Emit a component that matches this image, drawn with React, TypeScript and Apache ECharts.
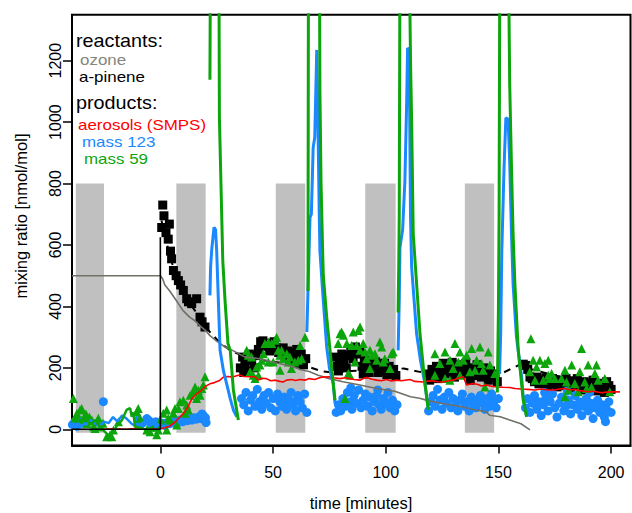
import React, { useEffect, useRef } from "react";
import * as echarts from "echarts";

const FONT = "'Liberation Sans', Arial, Helvetica, sans-serif";

// axes
const xTicks = [0, 50, 100, 150, 200];
const yTicks = [0, 200, 400, 600, 800, 1000, 1200];
const xRange = [-39.2, 208.6];
const yRange = [-52.7, 1349.6];

// shaded periods [start, end] in minutes, from -11 to 800 nmol/mol
const shadePeriods = [
  [-37.5, -25],
  [7.1, 20.1],
  [51.2, 64.3],
  [90.9, 104.4],
  [135.1, 148.1],
];
const shadeLow = -11;
const shadeHigh = 800;

// reactants
const ozone = [
  [-39.2, 500], [0, 500], [1, 490], [2, 470], [4, 452], [7, 420], [10, 387], [13, 365], [15, 355],
  [18, 334], [20, 322], [22, 305], [25, 287], [28.7, 268], [32, 257], [37.6, 235], [42, 232], [47, 225],
  [52, 215], [58, 205], [62, 195], [66, 188], [70, 176], [75, 165], [81, 155], [88, 145], [96, 133],
  [104, 124], [111, 106], [115, 101], [118, 95], [125, 84], [133, 74], [140, 63], [144.7, 57], [146, 46],
  [150.8, 41], [155, 30], [160, 18], [164, -2],
];

const apineneBaseline = [[-39.2, 0], [0, 0], [0, 625]];

const apineneFit = [
  [0.5, 680], [3, 600], [6, 520], [10, 450], [14, 400], [18, 360], [21, 325], [26, 285], [31, 257],
  [38, 235], [45, 225], [55, 215], [66, 203], [71, 190], [76, 185], [85, 190], [95, 192], [108, 198],
  [115, 187], [125, 180], [140, 176], [149, 173], [159, 209], [165, 195], [175, 175], [185, 160],
  [195, 150], [200, 145],
];

const apineneMeasured = [
  [1.06, 730], [1.6, 695], [0.6, 657], [4, 668], [3.5, 619], [2.5, 640], [5, 555], [5.8, 517], [4.5, 580],
  [8, 484], [7, 500], [9, 470], [10.2, 452], [11.7, 425], [12.5, 415], [13.9, 409], [16.1, 425],
  [17.6, 365], [18.5, 350], [19.8, 333],
  [35.5, 200], [36.5, 235], [37, 185], [37.5, 215], [38.5, 190], [39.5, 245], [40.5, 225], [41, 240],
  [41.5, 200], [42.5, 240], [43.5, 260], [44.5, 285], [45.5, 288], [46.5, 270], [47.5, 280], [48.5, 255],
  [49.5, 275], [50.5, 285], [51.5, 265], [52.5, 250], [53.5, 260], [54.5, 265], [55.5, 240], [56.5, 255],
  [57.5, 225], [58.5, 250], [59.5, 235], [60.5, 260], [61.5, 215], [62.5, 245], [63.5, 210], [64.5, 230],
  [77.5, 235], [78.5, 205], [79, 190], [79.5, 225], [80.5, 245], [81.5, 215], [82.5, 200], [83.5, 240],
  [84.5, 262], [85.5, 230], [86.5, 268], [87.5, 245], [88.5, 260], [89.5, 205], [90, 180], [90.5, 225],
  [91.5, 215], [92.5, 185], [93.5, 215], [94.5, 200], [95.5, 220], [96, 200], [96.5, 185], [97.5, 210],
  [98.5, 190], [99.5, 215], [100.5, 178], [101.5, 205], [102.5, 180], [103.5, 195], [104.5, 175],
  [118.5, 180], [119.5, 160], [120.5, 195], [121.5, 175], [122.5, 205], [123.5, 165], [124.5, 190],
  [125.5, 215], [126.5, 180], [127.5, 200], [128.5, 185], [129.5, 218], [130.5, 170], [131.5, 195],
  [132.5, 210], [133.5, 180], [134.5, 200], [135.5, 215], [136.5, 185], [137.5, 160], [138.5, 200],
  [139.5, 175], [140.5, 210], [141.5, 190], [142.5, 170], [143.5, 200], [144.5, 180], [145.5, 160],
  [146.5, 190], [147.5, 170], [148.5, 180], [149.5, 155],
  [161, 212], [162, 208], [163, 195], [164, 170], [165, 165], [166, 155], [167, 170], [168, 148], [169, 160],
  [170, 150], [171, 168], [172, 142], [173, 155], [174, 165], [175, 148], [176, 138], [177, 160], [178, 150],
  [179, 142], [180, 165], [181, 148], [182, 135], [183, 158], [184, 142], [185, 165], [186, 148], [187, 128],
  [188, 155], [189, 138], [190, 150], [191, 128], [192, 160], [193, 142], [194, 125], [195, 150], [196, 138],
  [197, 120], [198, 155], [199, 142], [200, 130],
];

// products
const aerosols = [
  [-26, 0], [-20, 2], [-15, 0], [-10, 3], [-5, 0], [0, 2], [2, 5], [4, 10], [6, 20], [8, 35], [10, 50],
  [12, 70], [14, 100], [16, 115], [18, 125], [20, 140], [22, 148], [24, 152], [26, 158], [28, 170],
  [30, 172], [32, 170], [35, 177], [37, 172], [40, 171], [42, 171], [43.5, 160], [45, 166], [47, 165],
  [49, 158], [51, 160], [53, 156], [54.5, 154], [56, 160], [58.3, 162], [60, 159], [62, 162], [64.2, 160],
  [66, 165], [68.6, 162], [70, 166], [72, 170], [75.3, 171], [77, 168], [79.7, 165], [82, 168],
  [84.1, 165], [86, 162], [88.6, 160], [90, 165], [91.5, 169], [94, 163], [96, 160], [98, 158],
  [100.4, 162], [102.5, 157], [104.8, 160], [107, 158], [110.7, 162], [113, 156], [116.6, 154], [119, 157],
  [121, 158], [123, 155], [125.5, 154], [128, 158], [129.9, 160], [132, 166], [134.4, 171], [135.9, 144],
  [138.8, 149], [141, 146], [142.5, 141], [144.7, 144], [147, 140], [149.2, 138], [152, 137], [155.1, 136],
  [157.3, 133], [160, 131], [163, 130], [166.2, 128], [169, 131], [172, 128], [175, 128], [177, 131],
  [179.5, 133], [181.5, 129], [183.9, 130], [186, 126], [189.8, 122], [192, 124], [195.7, 119],
  [198, 121], [200.2, 122], [203.9, 122],
];

const mass123Points = [
  [-39, 15], [-38, 25], [-37, 10], [-36, 30], [-35, 20], [-25.3, 90], [-10, 30], [-9, 12], [-8, 20],
  [-6, 35], [-5, 28], [-4, 15], [-2, 25], [-1, 10],
  [0, 15], [1, 20], [2, 12], [3, 22], [4, 18], [5, 25], [6, 20], [7, 28], [8, 22], [9, 30], [10, 25],
  [11, 32], [12, 28], [13, 35], [14, 30], [15, 38], [16, 33], [17, 40], [18, 35], [18.5, 50], [19, 45],
  [19.5, 30], [20, 38], [20.3, 22],
  [36, 100], [37, 80], [38, 120], [39, 60], [40, 95], [41, 110], [42, 75], [43, 130], [44, 90], [45, 65],
  [45.5, 100], [46, 110], [47, 85], [48, 120], [49, 70], [50, 100], [51, 60], [52, 115], [53, 90], [54, 75],
  [55, 105], [55.5, 88], [56, 65], [57, 95], [58, 120], [59, 80], [60, 60], [60.5, 95], [61, 110], [62, 90],
  [63, 70], [64, 115], [65, 55],
  [78, 55], [79, 80], [80, 60], [81, 100], [82, 75], [83, 120], [84, 90], [84.5, 135], [85, 65], [86, 110],
  [87, 85], [88, 128], [89, 70], [90, 95], [91, 115], [92, 75], [93, 105], [94, 60], [95, 90], [96, 110],
  [96.5, 128], [97, 80], [98, 65], [99, 100], [100, 85], [101, 120], [102, 70], [103, 95], [104, 60], [105, 80],
  [119, 60], [120, 90], [121, 110], [122, 75], [123, 130], [124, 95], [125, 65], [126, 105], [127, 85],
  [128, 120], [129, 70], [130, 100], [131, 80], [132, 60], [133, 95], [134, 115], [135, 75], [136, 90],
  [137, 60], [138, 105], [139, 80], [140, 70], [141, 95], [142, 110], [143, 85], [144, 65], [145, 100],
  [146, 75], [147, 115], [148, 90], [149, 70], [150, 100],
  [162, 70], [163, 100], [164, 55], [165, 85], [166, 110], [167, 65], [168, 90], [169, 45], [170, 80],
  [170.5, 120], [171, 100], [172, 60], [173, 90], [174, 115], [175, 70], [176, 40], [177, 85], [178, 105],
  [179, 60], [180, 75], [180.5, 125], [181, 95], [182, 50], [183, 80], [184, 110], [185, 65], [186, 90],
  [187, 45], [188, 75], [189, 100], [190, 60], [190.5, 120], [191, 85], [192, 35], [193, 70], [194, 95],
  [195, 55], [196, 80], [197, 40], [197.5, 25], [198, 65], [199, 90], [200, 55],
];

const mass123LinePre = [
  [-39.2, 20], [-37, 10], [-35, 25], [-33, 15], [-31, 30], [-29, 20], [-27, 10], [-25, 25], [-23, 20],
  [-21, 40], [-19, 25], [-17, 45], [-15, 35], [-13, 20], [-11, 10], [-9, 15], [-7, 25], [-5, 10],
  [-3, 20], [-1, 15], [0, 10],
];
const mass123LinePeak1 = [
  [22, 436], [22.3, 530], [22.8, 585], [23.8, 657], [24.5, 650], [25, 580], [25.5, 470], [26.5, 257],
  [28, 190], [29.4, 149], [31, 100], [32.4, 63], [33.9, 41],
];
const mass123LinePeak2 = [
  [65, 317], [65.5, 450], [66.4, 690], [67, 700], [67.8, 917], [68.5, 950], [69.4, 1235], [70, 960],
  [70.5, 700], [70.8, 581], [72, 450], [73.8, 268], [75, 200], [76.7, 149], [77.5, 84],
];
const mass123LinePeak3 = [
  [105.5, 257], [106, 420], [106.3, 592], [107.5, 650], [108.5, 808], [109.3, 1068], [109.7, 1241],
  [110.4, 1236], [110.7, 960], [111, 690], [111.5, 527], [113.7, 311], [115.5, 220], [117.4, 149], [118.9, 63],
];
const mass123LinePeak4 = [
  [150.5, 180], [151, 311], [151.5, 581], [152.5, 852], [153.3, 1014], [154.3, 1009], [155, 873],
  [155.8, 636], [156.5, 473], [158, 300], [160.3, 171], [161, 106], [162.5, 41],
];

const mass59Points = [
  [-38.6, 100], [-37.8, 36], [-37, 52], [-35.6, 63], [-34.9, 68], [-34.1, 36], [-33, 50], [-32.6, 19],
  [-31.5, 40], [-30.4, 30], [-29.7, 8], [-29, 3], [-28.2, 25], [-27.5, 36], [-26.7, 8], [-25.5, 20],
  [-23.8, -24], [-22.3, -18], [-21.6, -24], [-20.8, -2], [-18.6, 25], [-10.5, 57], [-9.8, 68], [-9, 36],
  [-6, -2], [-4.6, -8], [-3.8, 8], [-1.6, -18], [-0.9, -2],
  [0, 30], [1.3, 52], [2.8, 63], [2.8, -2], [3.5, 36], [4.3, 30], [5.8, 52], [6.5, 68], [7.3, 14], [8, 68],
  [8.7, 90], [10.2, 95], [11, 52], [11.7, 79], [12.4, 63], [13.2, 111], [14.6, 122], [15.4, 138],
  [16.1, 100], [16.9, 127], [17.6, 111], [18.4, 133], [19.1, 144], [19.8, 171],
  [38.3, 257], [39, 241], [39.8, 187], [40.5, 235], [41.2, 176], [42, 165], [42.7, 203], [43.5, 176],
  [44.2, 209], [45, 225], [45.7, 246], [46.4, 279], [47.9, 284], [47.9, 219], [49.4, 279], [50.1, 219],
  [50.9, 290], [51.6, 300], [52.3, 257], [53.1, 241], [53.1, 192], [53.8, 257], [54.5, 230], [56.1, 246],
  [56.8, 219], [57.5, 235], [58.2, 198], [59.7, 219], [61.2, 225], [62, 273], [62.7, 230], [64.2, 300],
  [78.9, 279], [79.7, 311], [80.4, 317], [81.2, 306], [81.9, 100], [82.7, 279], [83.4, 182], [84.1, 176],
  [84.9, 273], [85.6, 317], [86.3, 219], [87.1, 273], [87.8, 322], [88.6, 333], [88.6, 257], [90, 279],
  [90.8, 252], [91.5, 230], [93, 257], [93, 198], [93.7, 241], [95.2, 246], [96, 225], [97.4, 284],
  [98.2, 268], [98.9, 219], [99.6, 230], [101.9, 198], [102.6, 246], [103.3, 252],
  [121.8, 246], [121.8, 176], [124, 214], [126.3, 252], [126.3, 165], [128.5, 225], [128.5, 160],
  [129.9, 198], [130.7, 279], [132.2, 219], [132.9, 252], [132.9, 176], [134.4, 225], [135.9, 241],
  [137.3, 187], [138.1, 263], [139.6, 192], [140.3, 225], [141.8, 268], [142.5, 214], [143.2, 192],
  [144, 138], [145.5, 252], [146.2, 209], [148.4, 182],
  [163.9, 187], [164.4, 295], [165.4, 225], [166.2, 160], [166.9, 203], [168.4, 225], [169.9, 160],
  [170.6, 214], [172.1, 225], [172.1, 176], [172.6, 165], [173.6, 182], [175, 165], [178, 165],
  [179.5, 192], [179.5, 106], [180.2, 154], [181, 128], [182.5, 209], [183.9, 149], [185.4, 122],
  [186.1, 187], [186.9, 263], [188.3, 154], [189.1, 133], [189.8, 209], [191.3, 138], [192.8, 182],
  [193.5, 209], [194.2, 160], [197.2, 165], [199.4, 122],
];

const mass59LinePre = [
  [-39.2, 30], [-37, 45], [-35, 20], [-33, 35], [-31, 15], [-29, 30], [-27, 10], [-25, -5], [-23, -20],
  [-21, -10], [-19, 15], [-17, 30], [-15, 63], [-13.4, 69], [-12.7, 41], [-12, 55], [-11.2, 8], [-9, 5],
  [-7, 0], [-5, 3], [-3, -5], [-1, 0], [0, 5],
];
const mass59LinePeak1 = [
  [22, 1138], [22.2, 1500], [26, 1500], [26.2, 1014], [27.7, 549], [28.7, 419], [30, 279], [31, 257],
  [32.4, 128], [34.6, 30],
];
const mass59LinePeak2 = [
  [65.5, 450], [65.6, 938], [65.7, 1500], [70.6, 1500], [70.8, 1100], [71.3, 800], [72, 580], [72.3, 500],
  [73.8, 365], [75.3, 257], [76.7, 149], [77.5, 95],
];
const mass59LinePeak3 = [
  [105.5, 380], [105.8, 549], [106, 700], [106.3, 1500], [110.5, 1500], [111, 1200], [111.5, 1000],
  [112.2, 636], [113.7, 473], [115.2, 311], [117.4, 149], [118.9, 63],
];
const mass59LinePeak4 = [
  [149.5, 120], [150, 387], [150.3, 700], [150.6, 1500], [154.5, 1500], [155, 1125], [155.8, 852],
  [156.5, 636], [157.3, 473], [158.8, 257], [161, 95], [162.5, 41],
];

const legendHeaders = ["reactants:", "products:"];
const legendItems = ["ozone", "a-pinene", "aerosols (SMPS)", "mass 123", "mass 59"];

const C_OZONE = "#707068";
const C_OZONE_TXT = "#85857c";
const C_RED = "#ff0000";
const C_BLUE = "#1a88ff";
const C_GREEN = "#0ca50c";
const C_SHADE = "#c0c0c0";

function lineSeries(data: number[][], color: string, width: number, z: number, type: any = "solid") {
  return {
    type: "line",
    data,
    showSymbol: false,
    symbol: "none",
    clip: true,
    z,
    lineStyle: { color, width, type },
    emphasis: { disabled: true },
    silent: true,
  };
}

function scatterSeries(data: number[][], color: string, symbol: string, size: number, z: number) {
  return {
    type: "scatter",
    data,
    symbol,
    symbolSize: size,
    z,
    itemStyle: { color, opacity: 1 },
    emphasis: { disabled: true },
    silent: true,
  };
}

export default function App() {
  const ref = useRef<HTMLDivElement>(null);
  useEffect(() => {
    if (!ref.current) return;
    const chart = echarts.init(ref.current, null, { renderer: "svg" });
    const txt = (text: string, x: number, y: number, size: number, sx: number, fill: string) => ({
      type: "text",
      x,
      y,
      scaleX: sx,
      z: 100,
      style: {
        text,
        fill,
        fontSize: size,
        lineHeight: size,
        fontFamily: FONT,
        align: "left",
        verticalAlign: "middle",
      },
    });
    const option: any = {
      animation: false,
      backgroundColor: "#ffffff",
      grid: {
        left: 72,
        right: 1.5,
        top: 14.7,
        bottom: 67.5,
        show: true,
        borderColor: "#000",
        borderWidth: 2,
        backgroundColor: "transparent",
        containLabel: false,
      },
      xAxis: {
        type: "value",
        min: xRange[0],
        max: xRange[1],
        axisLine: { show: true, onZero: false, lineStyle: { color: "#000", width: 2 } },
        splitLine: { show: false },
        axisTick: { show: true, customValues: xTicks, length: 8, lineStyle: { color: "#000", width: 1.5 } },
        axisLabel: {
          customValues: xTicks,
          fontSize: 16,
          color: "#000",
          margin: 19,
          fontFamily: FONT,
          formatter: (v: number) => String(v),
        },
      },
      yAxis: {
        type: "value",
        min: yRange[0],
        max: yRange[1],
        axisLine: { show: true, onZero: false, lineStyle: { color: "#000", width: 2 } },
        splitLine: { show: false },
        axisTick: { show: true, customValues: yTicks, length: 9, lineStyle: { color: "#000", width: 1.5 } },
        axisLabel: {
          customValues: yTicks,
          fontSize: 16,
          color: "#000",
          margin: 9,
          rotate: 90,
          fontFamily: FONT,
          formatter: (v: number) => String(v),
        },
      },
      series: [
        {
          type: "custom",
          data: shadePeriods.map(([a, b]) => [a, b, shadeLow, shadeHigh]),
          encode: { x: [0, 1], y: [2, 3] },
          z: 1,
          silent: true,
          renderItem: (params: any, api: any) => {
            const p1 = api.coord([api.value(0), api.value(3)]);
            const p2 = api.coord([api.value(1), api.value(2)]);
            return {
              type: "rect",
              shape: { x: p1[0], y: p1[1], width: p2[0] - p1[0], height: p2[1] - p1[1] },
              style: { fill: C_SHADE },
            };
          },
        },
        lineSeries(apineneFit, "#000", 2, 2, [7, 6]),
        scatterSeries(apineneMeasured, "#000", "rect", 9, 3),
        scatterSeries(mass123Points, C_BLUE, "circle", 9, 4),
        scatterSeries(mass59Points, C_GREEN, "triangle", 9, 5),
        lineSeries(ozone, C_OZONE, 1.6, 6),
        lineSeries(aerosols, C_RED, 1.6, 7),
        lineSeries(mass123LinePre, C_BLUE, 2.5, 8),
        lineSeries(mass123LinePeak1, C_BLUE, 3, 8),
        lineSeries(mass123LinePeak2, C_BLUE, 3, 8),
        lineSeries(mass123LinePeak3, C_BLUE, 3, 8),
        lineSeries(mass123LinePeak4, C_BLUE, 3, 8),
        lineSeries(mass59LinePre, C_GREEN, 2.5, 9),
        lineSeries(mass59LinePeak1, C_GREEN, 3, 9),
        lineSeries(mass59LinePeak2, C_GREEN, 3, 9),
        lineSeries(mass59LinePeak3, C_GREEN, 3, 9),
        lineSeries(mass59LinePeak4, C_GREEN, 3, 9),
        lineSeries(apineneBaseline, "#000", 1.6, 10),
      ],
      graphic: [
        txt(legendHeaders[0], 76, 41.3, 18, 1.1, "#000"),
        txt(legendItems[0], 80, 59.8, 15, 1.13, C_OZONE_TXT),
        txt(legendItems[1], 79, 76.6, 15, 1.13, "#000"),
        txt(legendHeaders[1], 76, 102.5, 18, 1.1, "#000"),
        txt(legendItems[2], 78, 124.7, 15, 1.13, C_RED),
        txt(legendItems[3], 82, 141.7, 15, 1.13, C_BLUE),
        txt(legendItems[4], 84, 158.6, 15, 1.13, C_GREEN),
        {
          type: "text",
          x: 361,
          y: 503,
          style: { text: "time [minutes]", fill: "#000", fontSize: 16.5, fontFamily: FONT, align: "center", verticalAlign: "middle" },
        },
        {
          type: "text",
          x: 21,
          y: 216,
          rotation: Math.PI / 2,
          style: { text: "mixing ratio [nmol/mol]", fill: "#000", fontSize: 16.5, fontFamily: FONT, align: "center", verticalAlign: "middle" },
        },
      ],
    };
    chart.setOption(option);
    return () => chart.dispose();
  }, []);
  return (
    <div
      ref={ref}
      style={{ position: "fixed", left: 0, top: 0, width: 632, height: 513, background: "#fff" }}
    />
  );
}
